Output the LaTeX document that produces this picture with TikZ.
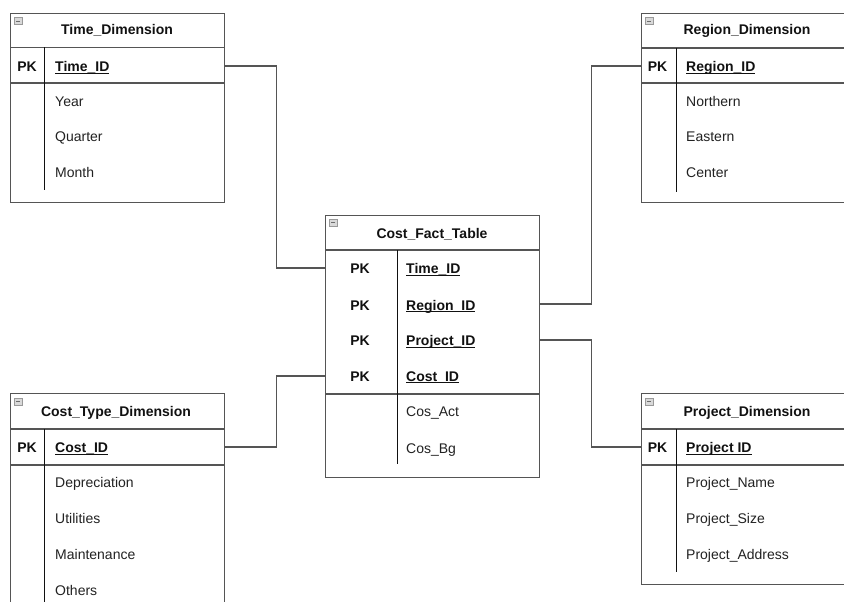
\documentclass[tikz,border=0pt]{standalone}
\usepackage{fontspec}
\setmainfont{Liberation Sans}
\definecolor{edge}{HTML}{555555}
\definecolor{divider}{HTML}{111111}
\definecolor{ink}{HTML}{111111}
\definecolor{fieldink}{HTML}{222222}
\newcommand\keyfield[1]{\underline{\smash{#1}}}
\begin{document}
\begin{tikzpicture}[x=1pt,y=-1pt,
  frame/.style={draw=edge, line width=1.1pt, fill=white, inner sep=0pt, anchor=north west},
  rule/.style={draw=edge, line width=1.2pt},
  colrule/.style={draw=divider, line width=0.9pt},
  title/.style={font=\fontsize{14}{16}\selectfont\bfseries, text=ink, inner sep=0pt, anchor=base},
  key/.style={font=\fontsize{14}{16}\selectfont\bfseries, text=ink, inner sep=0pt, anchor=base},
  field/.style={font=\fontsize{14}{16}\selectfont, text=fieldink, inner sep=0pt, anchor=base west},
  pkfield/.style={font=\fontsize{14}{16}\selectfont\bfseries, text=ink, inner sep=0pt, anchor=base west},
  conn/.style={draw=edge, line width=1.1pt},
  fold/.style={draw=gray!80, fill=gray!30, line width=0.7pt, minimum width=8pt, minimum height=7pt, inner sep=0pt, anchor=north west},
  folddash/.style={draw=gray!85!black, line width=1pt}
]
\clip (0,0) rectangle (844,602);
\fill[white] (0,0) rectangle (844,602);

% ---------- Time_Dimension ----------
\node[frame, minimum width=214pt, minimum height=189pt] (time) at (10,13) {};
\draw[rule] (10,47.5) -- (224,47.5);
\draw[rule] (10,83) -- (224,83);
\draw[colrule] (44,47.5) -- (44,190);
\node[fold] (timefold) at (13.5,17.5) {};
\draw[folddash] ([xshift=2pt]timefold.center) -- ([xshift=-2pt]timefold.center);
\node[title] (timetitle) at (117,35) {Time\_Dimension};
\node[key] (timepk) at (27,72) {PK};
\node[pkfield] (timeid) at (55,72) {\keyfield{Time\_ID}};
\node[field] (timeyear) at (55,106.5) {Year};
\node[field] (timeqtr) at (55,142) {Quarter};
\node[field] (timemonth) at (55,177.5) {Month};
\coordinate (timekey) at (10,66);

% ---------- Region_Dimension ----------
\node[frame, minimum width=212pt, minimum height=189pt] (region) at (641,13) {};
\draw[rule] (641,48) -- (853,48);
\draw[rule] (641,83) -- (853,83);
\draw[colrule] (676,48) -- (676,192);
\node[fold] (regionfold) at (644.5,17.5) {};
\draw[folddash] ([xshift=2pt]regionfold.center) -- ([xshift=-2pt]regionfold.center);
\node[title] (regiontitle) at (747,35) {Region\_Dimension};
\node[key] (regionpk) at (657.5,72) {PK};
\node[pkfield] (regionid) at (686,72) {\keyfield{Region\_ID}};
\node[field] (regionn) at (686,106.5) {Northern};
\node[field] (regione) at (686,142) {Eastern};
\node[field] (regionc) at (686,177.5) {Center};
\coordinate (regionkey) at (641,66);

% ---------- Cost_Fact_Table ----------
\node[frame, minimum width=214pt, minimum height=262pt] (fact) at (325,215) {};
\draw[rule] (325,250) -- (539,250);
\draw[rule] (325,394) -- (539,394);
\draw[colrule] (397,250) -- (397,464);
\node[fold] (factfold) at (329,219) {};
\draw[folddash] ([xshift=2pt]factfold.center) -- ([xshift=-2pt]factfold.center);
\node[title] (facttitle) at (432,238.5) {Cost\_Fact\_Table};
\node[key] (factpk1) at (360,273.5) {PK};
\node[key] (factpk2) at (360,310) {PK};
\node[key] (factpk3) at (360,345.5) {PK};
\node[key] (factpk4) at (360,381) {PK};
\node[pkfield] (facttime) at (406,273.5) {\keyfield{Time\_ID}};
\node[pkfield] (factregion) at (406,310) {\keyfield{Region\_ID}};
\node[pkfield] (factproject) at (406,345.5) {\keyfield{Project\_ID}};
\node[pkfield] (factcost) at (406,381) {\keyfield{Cost\_ID}};
\node[field] (factact) at (406,416.5) {Cos\_Act};
\node[field] (factbg) at (406,453) {Cos\_Bg};
\coordinate (facttimekey) at (325,268);
\coordinate (factregionkey) at (539,304);
\coordinate (factprojectkey) at (539,340);
\coordinate (factcostkey) at (325,376);

% ---------- Cost_Type_Dimension ----------
\node[frame, minimum width=214pt, minimum height=230pt] (ctype) at (10,393) {};
\draw[rule] (10,429) -- (224,429);
\draw[rule] (10,465) -- (224,465);
\draw[colrule] (44,429) -- (44,620);
\node[fold] (ctypefold) at (13.5,397.5) {};
\draw[folddash] ([xshift=2pt]ctypefold.center) -- ([xshift=-2pt]ctypefold.center);
\node[title] (ctypetitle) at (116,416) {Cost\_Type\_Dimension};
\node[key] (ctypepk) at (27,452.5) {PK};
\node[pkfield] (ctypeid) at (55,452.5) {\keyfield{Cost\_ID}};
\node[field] (ctypedep) at (55,487.5) {Depreciation};
\node[field] (ctypeutil) at (55,523) {Utilities};
\node[field] (ctypemaint) at (55,559) {Maintenance};
\node[field] (ctypeoth) at (55,595) {Others};
\coordinate (ctypekey) at (224,447);

% ---------- Project_Dimension ----------
\node[frame, minimum width=212pt, minimum height=191pt] (project) at (641,393) {};
\draw[rule] (641,429) -- (853,429);
\draw[rule] (641,465) -- (853,465);
\draw[colrule] (676,429) -- (676,572);
\node[fold] (projectfold) at (644.5,397.5) {};
\draw[folddash] ([xshift=2pt]projectfold.center) -- ([xshift=-2pt]projectfold.center);
\node[title] (projecttitle) at (747,416) {Project\_Dimension};
\node[key] (projectpk) at (657.5,452.5) {PK};
\node[pkfield] (projectid) at (686,452.5) {\keyfield{Project ID}};
\node[field] (projectname) at (686,487.5) {Project\_Name};
\node[field] (projectsize) at (686,523) {Project\_Size};
\node[field] (projectaddr) at (686,559) {Project\_Address};
\coordinate (projectkey) at (641,447);

% ---------- Relationships ----------
\draw[conn] (time.east |- timekey) -- ++(51,0) |- (fact.west |- facttimekey);
\draw[conn] (fact.east |- factregionkey) -- ++(51,0) |- (region.west |- regionkey);
\draw[conn] (fact.east |- factprojectkey) -- ++(51,0) |- (project.west |- projectkey);
\draw[conn] (ctype.east |- ctypekey) -- ++(51,0) |- (fact.west |- factcostkey);
\end{tikzpicture}
\end{document}
